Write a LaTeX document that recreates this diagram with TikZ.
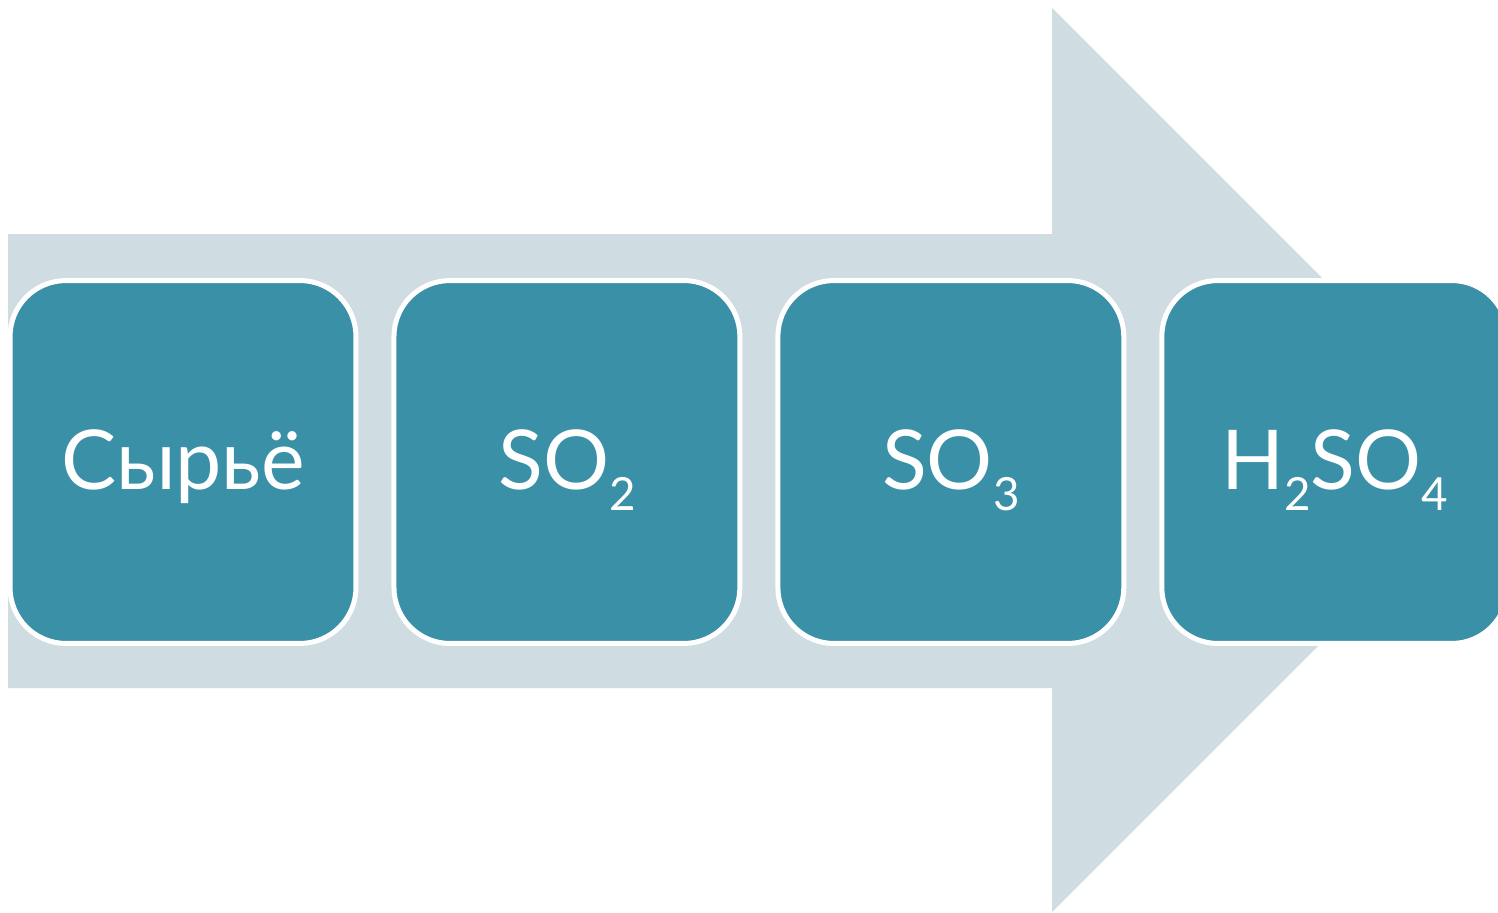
\documentclass[tikz,border=0pt]{standalone}
\usepackage{fontspec}
\setmainfont{Lato}
\usetikzlibrary{positioning}
\definecolor{arrowgray}{HTML}{CFDCE2}
\definecolor{boxteal}{HTML}{3A90A7}
\newcommand{\idx}[1]{\raisebox{-12pt}[0pt][0pt]{\fontsize{26}{28}\selectfont #1}}

\begin{document}
\begin{tikzpicture}[x=0.02cm, y=-0.02cm, node distance={0.76cm},
        stage/.style = {draw=white, line width=0.1cm, fill=boxteal, rounded corners=1.12cm,
            minimum width=6.92cm, minimum height=7.26cm, outer sep=0pt, text=white,
            font=\fontsize{47}{52}\selectfont, text height=1.1cm, text depth=0pt}]
    \useasboundingbox (0,0) rectangle (1498,913);
    \fill[arrowgray] (8,234) -- (1052,234) -- (1052,8) -- (1504,460) -- (1052,912) -- (1052,688) -- (8,688) -- cycle;
    \node[stage] (raw) at (183,462) {Сырьё};
    \node[stage] (so2) [right=of raw] {SO\idx{2}};
    \node[stage] (so3) [right=of so2] {SO\idx{3}};
    \node[stage] (acid) [right=of so3] {H\idx{2}SO\idx{4}};
\end{tikzpicture}
\end{document}
